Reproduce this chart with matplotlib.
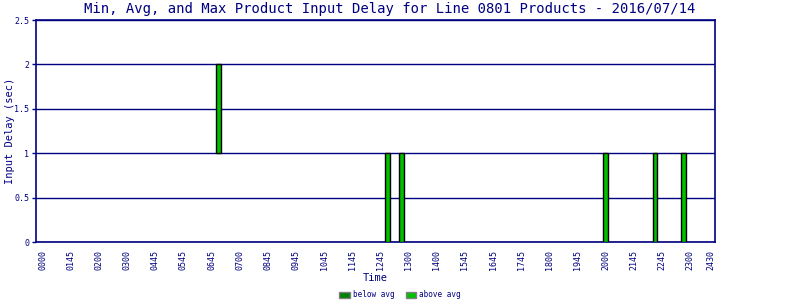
import numpy as np
import matplotlib
matplotlib.use('Agg')
import matplotlib.pyplot as plt
from matplotlib.patches import Patch

# ===== data =====
n_slots = 96
tick_idx = [0, 4, 8, 12, 16, 20, 24, 28, 32, 36, 40, 44, 48, 52, 56, 60, 64,
            68, 72, 76, 80, 84, 88, 92, 95]
tick_labels = ['0000', '0145', '0200', '0300', '0445', '0545', '0645', '0700',
               '0845', '0945', '1045', '1145', '1245', '1300', '1400', '1545',
               '1645', '1745', '1800', '1945', '2000', '2145', '2245', '2300',
               '2430']
bar_idx = [25, 49, 51, 80, 87, 91]
min_delay = [1, 0, 0, 0, 0, 0]
avg_delay = [1, 0, 0, 0, 0, 0]
max_delay = [2, 1, 1, 1, 1, 1]

navy = '#000080'
c_below = '#008000'
c_above = '#00c000'

plt.rcParams['font.family'] = ['DejaVu Sans Mono']

fig = plt.figure(figsize=(8, 3), dpi=100)
ax = fig.add_axes([0.045, 0.1933, 0.849, 0.74])

mn = np.array(min_delay, float)
av = np.array(avg_delay, float)
mx = np.array(max_delay, float)
below = av - mn
sel = below > 0
ax.bar(np.array(bar_idx)[sel], below[sel], bottom=mn[sel], width=0.7, color=c_below,
       edgecolor='black', linewidth=1, zorder=3)
ax.bar(bar_idx, mx - av, bottom=av, width=0.7, color=c_above,
       edgecolor='black', linewidth=1, zorder=3)

ax.set_xlim(-0.95, 95.55)
ax.set_ylim(0, 2.5)
ax.set_yticks([0, 0.5, 1, 1.5, 2, 2.5])
ax.set_yticklabels(['0', '0.5', '1', '1.5', '2', '2.5'])
ax.set_xticks(tick_idx)
ax.set_xticklabels(tick_labels, rotation=90)
ax.tick_params(axis='x', length=0, labelsize=6, colors=navy, pad=6)
ax.tick_params(axis='y', length=3, width=1, labelsize=6, colors=navy, pad=2)
ax.grid(axis='y', color=navy, lw=1, zorder=1)
for s in ax.spines.values():
    s.set_color(navy)
    s.set_linewidth(1.2)

ax.set_title('Min, Avg, and Max Product Input Delay for Line 0801 Products - 2016/07/14',
             fontsize=10, color=navy, pad=5, x=0.521)
ax.set_xlabel('Time', fontsize=7.5, color=navy)
ax.xaxis.set_label_coords(0.5, -0.14)
ax.set_ylabel('Input Delay (sec)', fontsize=7.5, color=navy)
ax.yaxis.set_label_coords(-0.031, 0.5)

handles = [Patch(facecolor=c_below, edgecolor='gray', label='below avg'),
           Patch(facecolor=c_above, edgecolor='gray', label='above avg')]
leg = fig.legend(handles=handles, loc='center', bbox_to_anchor=(0.5, 0.017), ncol=2,
                 frameon=False, fontsize=5.5, handlelength=1.4, handleheight=0.9,
                 columnspacing=1.5, handletextpad=0.4, borderpad=0)
for t in leg.get_texts():
    t.set_color(navy)

fig.savefig('out.png', dpi=100)
